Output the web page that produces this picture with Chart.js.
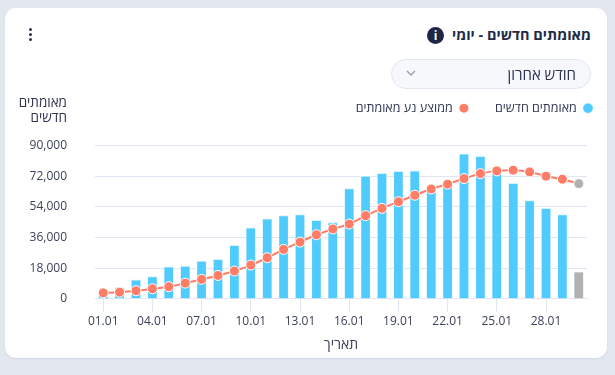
<!DOCTYPE html>
<html lang="he" dir="rtl">
<head>
<meta charset="UTF-8">
<title>מאומתים חדשים - יומי</title>
<script src="https://cdn.jsdelivr.net/npm/chart.js"></script>
<style>
    html, body { margin: 0; width: 615px; height: 375px; overflow: hidden; background: #e3e7ef; font-family: "Open Sans", sans-serif; }
    .card { position: absolute; left: 5px; top: 8px; width: 602px; height: 350px; background: #fff; border-radius: 11px; box-shadow: 0 1px 2px #d3d7df; }
    .title { position: absolute; right: 16px; top: 17px; font-size: 14.5px; font-weight: 700; line-height: 20px; color: #222b45; white-space: nowrap; }
    .info { position: absolute; left: 422px; top: 19px; width: 17px; height: 17px; border-radius: 50%; background: #1e2746; color: #fff; font-size: 12px; font-weight: 700; line-height: 17px; text-align: center; direction: ltr; }
    .menu { position: absolute; left: 21px; top: 20px; width: 8px; }
    .menu i { display: block; width: 3px; height: 3px; margin: 0 auto 2px; border-radius: 50%; background: #2a3350; }
    .select { position: absolute; left: 386px; top: 51px; width: 198px; height: 28px; border: 1px solid #e2e6f0; border-radius: 15px; background: #f6f8fc; }
    .select span { position: absolute; right: 14px; top: 2px; font-size: 15px; line-height: 24px; color: #2d3550; white-space: nowrap; }
    .select svg { position: absolute; left: 14px; top: 10px; }
    .ytitle { position: absolute; right: 540px; top: 87px; font-size: 13.5px; line-height: 15px; color: #2d3550; text-align: right; white-space: nowrap; }
    canvas { position: absolute; left: 0; top: 68px; }
</style>
</head>
<body>
<div class="card">
    <canvas id="dailyChart" width="602" height="282"></canvas>
    <div class="menu"><i></i><i></i><i></i></div>
    <div class="title">מאומתים חדשים - יומי</div>
    <div class="info">i</div>
    <div class="select">
        <span>חודש אחרון</span>
        <svg width="10" height="7" viewBox="0 0 10 7"><path d="M1 1l4 4 4-4" fill="none" stroke="#9aa1b5" stroke-width="1.5"/></svg>
    </div>
    <div class="ytitle">מאומתים<br>חדשים</div>
</div>
<script>
    // נתונים
    const days = ['01.01','02.01','03.01','04.01','05.01','06.01','07.01','08.01','09.01','10.01',
                  '11.01','12.01','13.01','14.01','15.01','16.01','17.01','18.01','19.01','20.01',
                  '21.01','22.01','23.01','24.01','25.01','26.01','27.01','28.01','29.01','30.01'];
    const newCases = [2000,6700,11200,13000,18800,19200,22200,23100,31400,41600,
                      46900,48800,49400,46000,44800,64700,72000,73700,74900,75100,
                      63500,66500,85100,83700,74000,67800,57600,53100,49400,15900];
    const movingAvg = [3500,3900,4700,5900,7100,9200,11400,13700,16300,19800,
                       24100,29000,33300,37600,41000,43900,48800,53100,57000,60800,
                       64500,67300,70600,73500,75100,75500,74500,72000,70200,67600];
    const yTicks = [0,18000,36000,54000,72000,90000];

    const barBlue = '#50cbfd';
    const lineRed = '#ff7d67';
    const partialGrey = '#b1b1b1';
    const lastIdx = days.length - 1;
    const barColors = days.map((d, i) => i === lastIdx ? partialGrey : barBlue);
    const pointColors = days.map((d, i) => i === lastIdx ? partialGrey : lineRed);

    // מיקום המקרא: רווח מתחתיו והזזה ימינה
    const legendPlace = {
        id: 'legendPlace',
        beforeLayout(chart) {
            const legend = chart.legend;
            if (legend._gapDone) return;
            const fit = legend.fit;
            legend.fit = function () {
                fit.call(this);
                this.height += 21;
            };
            legend._gapDone = true;
        },
        afterLayout(chart) {
            chart.legend.left += 32;
            chart.legend.right += 32;
        }
    };

    new Chart(document.getElementById('dailyChart').getContext('2d'), {
        type: 'bar',
        plugins: [legendPlace],
        data: {
            labels: days,
            datasets: [
                {
                    label: 'מאומתים חדשים',
                    data: newCases,
                    backgroundColor: barColors,
                    borderColor: '#d4f1ff',
                    borderWidth: { top: 1, left: 0.5, right: 0.5, bottom: 0 },
                    barThickness: 9,
                    order: 2
                },
                {
                    type: 'line',
                    label: 'ממוצע נע מאומתים',
                    data: movingAvg,
                    borderColor: lineRed,
                    borderWidth: 2,
                    tension: 0.3,
                    pointRadius: 5,
                    pointHoverRadius: 5,
                    pointBorderWidth: 1,
                    pointBorderColor: '#fff',
                    pointBackgroundColor: pointColors,
                    backgroundColor: lineRed,
                    order: 1
                }
            ]
        },
        options: {
            responsive: false,
            animation: false,
            layout: { padding: { right: 20, bottom: 5 } },
            scales: {
                x: {
                    offset: true,
                    grid: { offset: false, drawOnChartArea: false, color: '#dfe6f3', tickLength: 13 },
                    border: { color: '#dfe6f3' },
                    ticks: {
                        autoSkip: false,
                        maxRotation: 0,
                        color: '#3c4358',
                        font: { family: '"Open Sans"', size: 12 },
                        padding: 3,
                        callback: function (value) {
                            return days[value];
                        }
                    },
                    afterBuildTicks: function (axis) {
                        axis.ticks = axis.ticks.filter(t => t.value % 3 === 0);
                    },
                    title: {
                        display: true,
                        text: 'תאריך',
                        color: '#3c4358',
                        font: { family: '"Open Sans"', size: 14 },
                        padding: { top: 4, bottom: 0 }
                    }
                },
                y: {
                    min: 0,
                    max: 90000,
                    afterFit: function (axis) { axis.width = 90; },
                    afterBuildTicks: function (axis) {
                        axis.ticks = yTicks.map(v => ({ value: v }));
                    },
                    grid: { color: '#dfe6f3', drawTicks: false },
                    border: { display: false },
                    ticks: {
                        color: '#3c4358',
                        font: { family: '"Open Sans"', size: 12 },
                        padding: 28,
                        callback: v => v.toLocaleString('en-US')
                    }
                }
            },
            plugins: {
                tooltip: { enabled: false },
                legend: {
                    rtl: true,
                    align: 'start',
                    labels: {
                        usePointStyle: true,
                        pointStyle: 'circle',
                        boxHeight: 7,
                        pointStyleWidth: 10,
                        padding: 26,
                        color: '#2d3550',
                        font: { family: '"Open Sans"', size: 12.5 },
                        sort: (a, b) => a.datasetIndex - b.datasetIndex
                    }
                }
            }
        }
    });
</script>
</body>
</html>
